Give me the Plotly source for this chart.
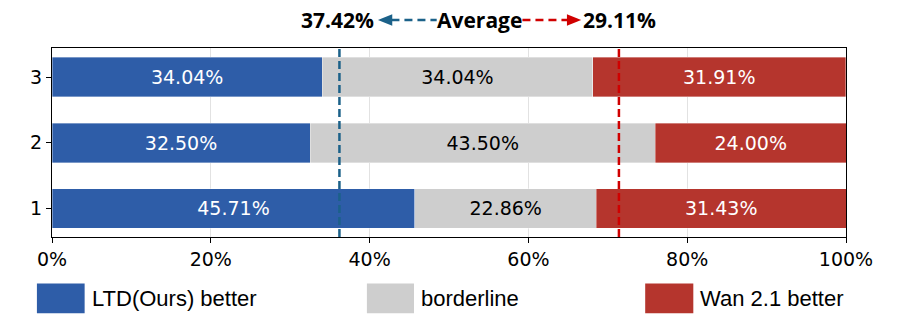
import plotly.graph_objects as go

# rows (bottom to top)
rows = [1, 2, 3]
ltd_better = [45.71, 32.50, 34.04]
borderline = [22.86, 43.50, 34.04]
wan_better = [31.43, 24.00, 31.91]

# average markers: label values and where the dashed lines sit on the x axis
avg_ltd_label = 37.42
avg_wan_label = 29.11
avg_ltd_line = 36.2
avg_wan_line = 71.4

x_ticks = [0, 20, 40, 60, 80, 100]
x_tick_labels = ["0%", "20%", "40%", "60%", "80%", "100%"]
legend_names = ["LTD(Ours) better", "borderline", "Wan 2.1 better"]

BLUE = "#2e5da8"
GRAY = "#cecece"
RED = "#b5352d"
LINE_BLUE = "#1b6189"
LINE_RED = "#d00000"

fig = go.Figure()
for vals, color, txtcolor, name in [
    (ltd_better, BLUE, "white", legend_names[0]),
    (borderline, GRAY, "black", legend_names[1]),
    (wan_better, RED, "white", legend_names[2]),
]:
    fig.add_trace(go.Bar(
        y=rows, x=vals, orientation="h", width=0.6, name=name,
        marker=dict(color=color, line=dict(color="rgba(255,255,255,0.6)", width=0.6)),
        texttemplate="%{x:.2f}%", textposition="inside", insidetextanchor="middle",
        textangle=0, constraintext="none",
        insidetextfont=dict(family="DejaVu Sans", size=19, color=txtcolor),
        showlegend=False, hoverinfo="skip",
    ))

shapes = []
for xv, col in [(avg_ltd_line, LINE_BLUE), (avg_wan_line, LINE_RED)]:
    shapes.append(dict(type="line", xref="x", yref="paper", x0=xv, x1=xv, y0=0, y1=1,
                       line=dict(color=col, width=2.5, dash="8px,4px"), layer="above"))

# header arrows (paper coords)
ya = 1.148
shapes.append(dict(type="line", xref="paper", yref="paper", x0=0.4275, x1=0.4845, y0=ya, y1=ya,
                   line=dict(color=LINE_BLUE, width=2.5, dash="8px,5px")))
shapes.append(dict(type="path", xref="paper", yref="paper",
                   path=f"M 0.4105 {ya} L 0.4285 {ya+0.03} L 0.4285 {ya-0.03} Z",
                   fillcolor=LINE_BLUE, line=dict(width=0)))
shapes.append(dict(type="line", xref="paper", yref="paper", x0=0.5925, x1=0.6495, y0=ya, y1=ya,
                   line=dict(color=LINE_RED, width=2.5, dash="8px,5px")))
shapes.append(dict(type="path", xref="paper", yref="paper",
                   path=f"M 0.6665 {ya} L 0.6485 {ya+0.03} L 0.6485 {ya-0.03} Z",
                   fillcolor=LINE_RED, line=dict(width=0)))

# legend patches
legend_boxes = [(-0.019, 0.0411), (0.3966, 0.4559), (0.7471, 0.8077)]
legend_colors = [BLUE, GRAY, RED]
for (x0, x1), col in zip(legend_boxes, legend_colors):
    shapes.append(dict(type="rect", xref="paper", yref="paper", x0=x0, x1=x1,
                       y0=-0.4034, y1=-0.2458, fillcolor=col, line=dict(width=0)))

annotations = [
    dict(text=f"<b>{avg_ltd_label:.2f}%</b>", x=0.4085, y=ya, xref="paper", yref="paper",
         xanchor="right", yanchor="middle", showarrow=False,
         font=dict(family="Open Sans", size=21, color="black")),
    dict(text="<b>Average</b>", x=0.5385, y=ya, xref="paper", yref="paper",
         xanchor="center", yanchor="middle", showarrow=False,
         font=dict(family="Open Sans", size=21, color="black")),
    dict(text=f"<b>{avg_wan_label:.2f}%</b>", x=0.6665, y=ya, xref="paper", yref="paper",
         xanchor="left", yanchor="middle", showarrow=False,
         font=dict(family="Open Sans", size=21, color="black")),
]
for (x0, x1), name in zip(legend_boxes, legend_names):
    annotations.append(dict(text=name, x=x1 + 0.0065, y=-0.3254, xref="paper", yref="paper",
                            xanchor="left", yanchor="middle", showarrow=False,
                            font=dict(family="Liberation Sans", size=22, color="black")))

fig.update_layout(
    barmode="stack",
    width=897, height=325,
    margin=dict(l=52, r=51, t=48, b=88),
    plot_bgcolor="white", paper_bgcolor="white",
    shapes=shapes, annotations=annotations,
    xaxis=dict(range=[0, 100], tickvals=x_ticks, ticktext=x_tick_labels,
               showgrid=True, gridcolor="rgba(190,190,190,0.45)", gridwidth=1,
               showline=True, linecolor="black", linewidth=1.2, mirror=True,
               ticks="outside", ticklen=5, tickcolor="black", zeroline=False,
               layer="above traces",
               tickfont=dict(family="DejaVu Sans", size=19, color="black")),
    yaxis=dict(range=[0.566, 3.443], tickvals=rows, showgrid=False,
               showline=True, linecolor="black", linewidth=1.2, mirror=True,
               ticks="outside", ticklen=5, tickcolor="black", zeroline=False,
               tickfont=dict(family="DejaVu Sans", size=19, color="black")),
)

fig.write_html("out.html", config={"displayModeBar": False},
               post_script="document.body.style.margin='0px';")
